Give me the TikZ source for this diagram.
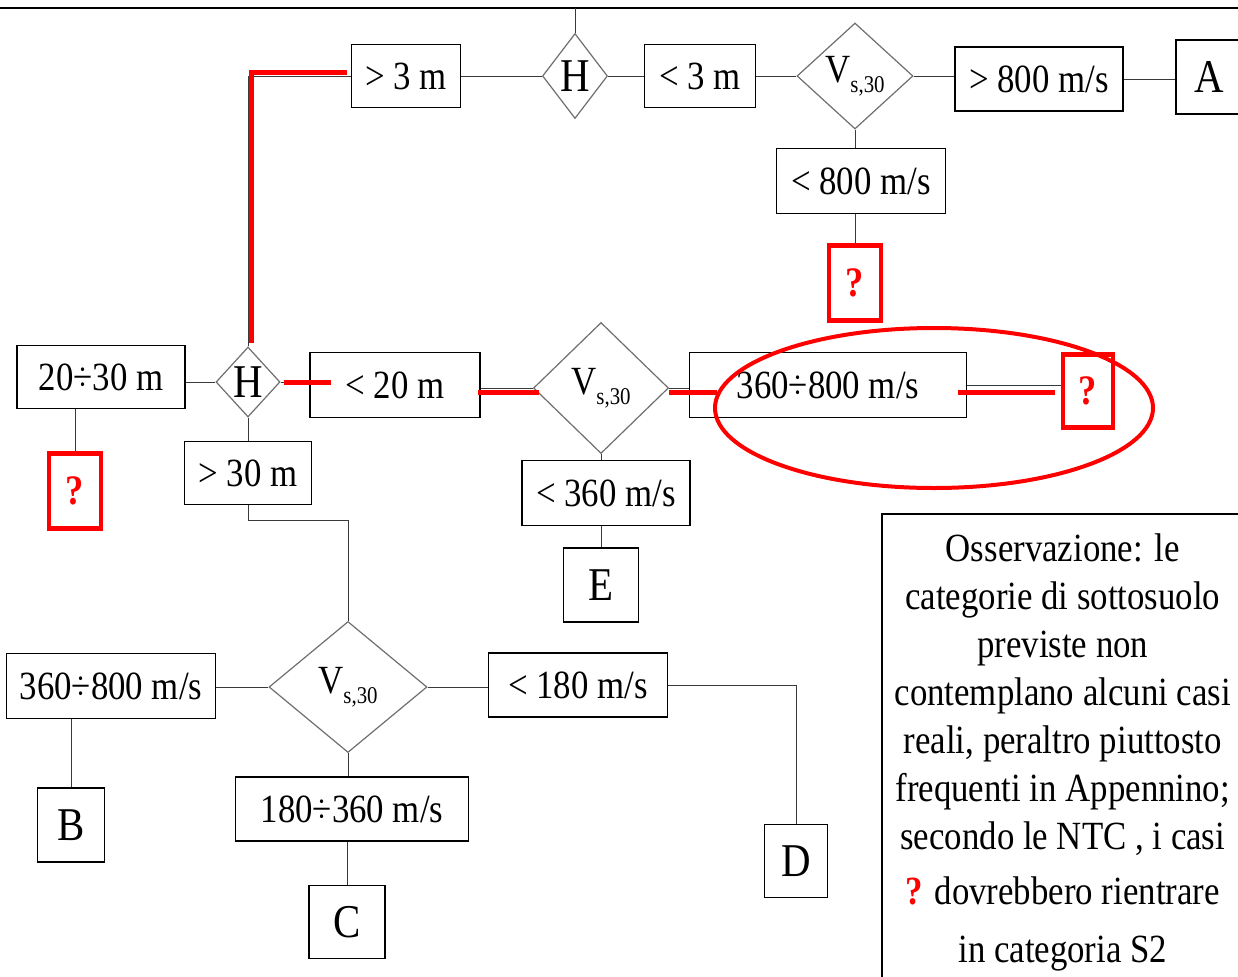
\documentclass[tikz,border=0pt]{standalone}
\usepackage{fontspec}
\setmainfont{Liberation Serif}[FakeStretch=0.87]
\usepackage{tikz}
\usetikzlibrary{shapes.geometric,calc}
\definecolor{FlowRed}{HTML}{FF0000}
\definecolor{FlowLine}{HTML}{3A3A3A}
\definecolor{FlowRhomb}{HTML}{6E6E6E}
\newcommand{\vsub}{V\raisebox{-5pt}{\fontsize{12}{12}\selectfont s,30}}

\begin{document}
\begin{tikzpicture}[x=0.5pt,y=-0.5pt,
  lbl/.style={draw=black,line width=0.75pt,inner sep=0pt,font=\fontsize{20}{24}\selectfont},
  cat/.style={draw=black,line width=0.75pt,inner sep=0pt,font=\fontsize{23.5}{28}\selectfont},
  rhomb/.style={diamond,draw=FlowRhomb,line width=0.6pt,inner sep=0pt},
  ask/.style={draw=FlowRed,text=FlowRed,line width=2.4pt,inner sep=0pt,
    minimum width=26pt,minimum height=37.5pt,font=\fontsize{21}{24}\selectfont\bfseries},
  hl/.style={FlowRed,line width=2.5pt},
  wire/.style={FlowLine,line width=0.5pt}]
  \useasboundingbox (0,0) rectangle (1238,976);
  \draw[black,line width=0.75pt] (0,8) -- (1238,8);
  \coordinate (entry) at (575,8);
  % top branch
  \node[rhomb,font=\fontsize{23.5}{28}\selectfont,minimum width=32.5pt,minimum height=42.5pt] (Htop) at (575,76) {H};
  \node[lbl,minimum width=54.5pt,minimum height=31.5pt] (gt3) at (406,76) {> 3 m};
  \node[lbl,minimum width=55.5pt,minimum height=31.5pt] (lt3) at (700,76) {< 3 m};
  \node[rhomb,font=\fontsize{20}{24}\selectfont,minimum width=58pt,minimum height=53pt] (Vtop) at (855,76) {\vsub};
  \node[lbl,minimum width=84pt,minimum height=32pt] (gt800) at (1039,79) {> 800 m/s};
  \node[cat,minimum width=33pt,minimum height=37pt] (A) at (1209,77) {A};
  \node[lbl,minimum width=84.5pt,minimum height=32.5pt] (lt800) at (861,181) {< 800 m/s};
  \node[ask] (q1) at (855,283) {?};
  % middle branch
  \node[rhomb,font=\fontsize{23.5}{28}\selectfont,minimum width=32pt,minimum height=35pt] (Hmid) at (248,382) {H};
  \node[lbl,minimum width=84pt,minimum height=31.5pt] (r2030) at (101,377) {20÷30 m};
  \node[ask] (q2) at (75,491) {?};
  \node[lbl,minimum width=85pt,minimum height=32.5pt] (lt20) at (395,385) {< 20 m};
  \node[lbl,minimum width=63.5pt,minimum height=31.5pt] (gt30) at (248,473) {> 30 m};
  \node[rhomb,font=\fontsize{20}{24}\selectfont,minimum width=67.5pt,minimum height=65.5pt] (Vmid) at (601,388) {\vsub};
  \node[lbl,minimum width=138.5pt,minimum height=32.5pt] (r360800) at (828,385) {360÷800 m/s};
  \node[ask,minimum width=25pt,minimum height=36.5pt] (q3) at (1088,391) {?};
  \node[lbl,minimum width=84pt,minimum height=32.5pt] (lt360) at (606,493) {< 360 m/s};
  \node[cat,minimum width=37.5pt,minimum height=37pt] (E) at (601,585) {E};
  % lower branch
  \node[rhomb,font=\fontsize{20}{24}\selectfont,minimum width=79pt,minimum height=65.5pt] (Vbot) at (348,687) {\vsub};
  \node[lbl,minimum width=104.5pt,minimum height=32.5pt] (b360800) at (111,686) {360÷800 m/s};
  \node[cat,minimum width=33.5pt,minimum height=37pt] (B) at (71,825) {B};
  \node[lbl,minimum width=116.5pt,minimum height=32pt] (r180360) at (352,809) {180÷360 m/s};
  \node[cat,minimum width=38pt,minimum height=36.5pt] (C) at (347,922) {C};
  \node[lbl,minimum width=89.5pt,minimum height=32pt] (lt180) at (578,685) {< 180 m/s};
  \node[cat,minimum width=31.5pt,minimum height=36.5pt] (D) at (796,861) {D};
  % note
  \node[draw=black,line width=0.75pt,anchor=north west,minimum width=181pt,inner xsep=0pt,
    inner ysep=10pt,align=center,font=\fontsize{20}{24}\selectfont] (obs) at (881,513)
    {Osservazione: le\\categorie di sottosuolo\\previste non\\contemplano alcuni casi\\
     reali, peraltro piuttosto\\frequenti in Appennino;\\secondo le NTC , i casi\\[3.5pt]
     \textcolor{FlowRed}{\bfseries ?} dovrebbero rientrare\\[5pt]in categoria S2\\[20pt]};
  % connectors
  \draw[wire] (entry) -- (Htop.north);
  \draw[wire] (gt3.east) -- (Htop.west);
  \draw[wire] (Htop.east) -- (lt3.west);
  \draw[wire] (lt3.east) -- (Vtop.west);
  \draw[wire] (Vtop.east) -- (Vtop.east -| gt800.west);
  \draw[wire] (gt800.east) -- (gt800.east -| A.west);
  \draw[wire] (Vtop.south) -- (Vtop.south |- lt800.north);
  \draw[wire] (q1.north |- lt800.south) -- (q1.north);
  \draw[wire] (Hmid.north) |- (gt3.west);
  \draw[wire] (r2030.east |- Hmid.west) -- (Hmid.west);
  \draw[wire] (q2.north |- r2030.south) -- (q2.north);
  \draw[wire] (Hmid.east) -- (Hmid.east -| lt20.west);
  \draw[wire] (Hmid.south) -- (gt30.north);
  \draw[wire] (gt30.south) -- ++(0,15) -| (Vbot.north);
  \draw[wire] (lt20.east |- Vmid.west) -- (Vmid.west);
  \draw[wire] (Vmid.east) -- (Vmid.east -| r360800.west);
  \draw[wire] (r360800.east) -- (r360800.east -| q3.west);
  \draw[wire] (Vmid.south) -- (Vmid.south |- lt360.north);
  \draw[wire] (E.north |- lt360.south) -- (E.north);
  \draw[wire] (b360800.east |- Vbot.west) -- (Vbot.west);
  \draw[wire] (B.north |- b360800.south) -- (B.north);
  \draw[wire] (Vbot.south) -- (Vbot.south |- r180360.north);
  \draw[wire] (C.north |- r180360.south) -- (C.north);
  \draw[wire] (Vbot.east) -- (Vbot.east -| lt180.west);
  \draw[wire] (lt180.east) -| (D.north);
  % red path
  \draw[hl] ($(Hmid.north)+(3,-3)$) |- ($(gt3.west)+(-4,-4)$);
  \draw[hl] ($(Hmid.east)+(3,0)$) -- ++(47,0);
  \draw[hl] ($(lt20.east)+(-3,7)$) -- ($(Vmid.west)+(6,4)$);
  \draw[hl] ($(Vmid.east)+(0,4)$) -- ++(48,0);
  \draw[hl] ($(r360800.east)+(-9,7)$) -- ($(q3.west)+(-6,1)$);
  \coordinate (ring) at (934,408);
  \draw[FlowRed,line width=2pt] (ring) ellipse [x radius=109.5pt,y radius=40pt];
\end{tikzpicture}
\end{document}
